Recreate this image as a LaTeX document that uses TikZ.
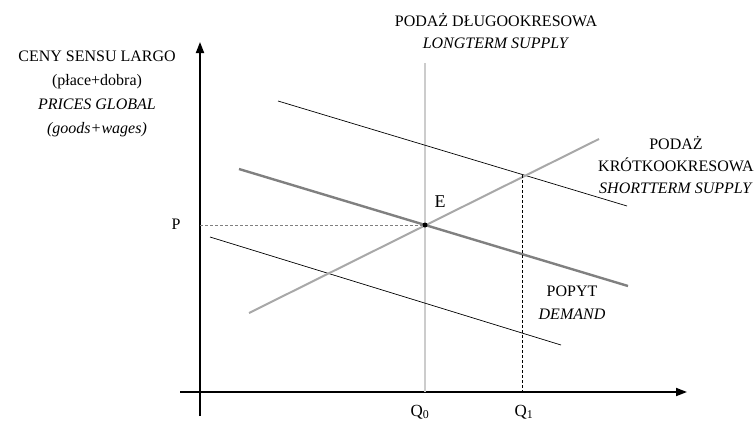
\documentclass[tikz,border=0pt]{standalone}
\usepackage{fontspec}
\setmainfont{Liberation Serif}
\usetikzlibrary{arrows.meta}
\definecolor{demgray}{gray}{0.5}
\definecolor{supgray}{gray}{0.66}
\definecolor{longgray}{gray}{0.8}
\begin{document}
\begin{tikzpicture}[x=1pt,y=-1pt,
    axis/.style={line width=1.8pt,-{Triangle[length=11pt,width=8pt]}},
    thin/.style={line width=0.7pt},
    guide/.style={line width=0.6pt,densely dashed},
    lbl/.style={font=\fontsize{16}{24}\selectfont,align=center,inner sep=0pt}]
    \useasboundingbox(0,0)rectangle(754,426);
    % axes
    \coordinate(yb)at(200,416);
    \coordinate(yt)at(200,42);
    \coordinate(xl)at(180,392);
    \coordinate(xr)at(687,392);
    \draw[axis](yb)--(yt);
    \draw[axis](xl)--(xr);
    % curves
    \coordinate(d0a)at(239,169);\coordinate(d0b)at(628,286);
    \coordinate(d1a)at(278,101);\coordinate(d1b)at(627,206);
    \coordinate(d2a)at(210,237);\coordinate(d2b)at(561,345);
    \coordinate(sa)at(249,313);\coordinate(sb)at(599,139);
    \coordinate(lta)at(425,63);\coordinate(ltb)at(425,392);
    \coordinate(q1a)at(522,175);\coordinate(q1b)at(522,392);
    \coordinate(pa)at(200,225);
    \draw[longgray,line width=2pt](lta)--(ltb);
    \draw[thin](d1a)--(d1b);
    \draw[thin](d2a)--(d2b);
    \draw[supgray,line width=2pt](sa)--(sb);
    \draw[demgray,line width=2.4pt](d0a)--(d0b);
    \draw[guide](q1a)--(q1b);
    \node[circle,fill,inner sep=0pt,minimum size=5pt](E)at(425,225){};
    \draw[guide,demgray](pa)--(E);
    % labels
    \node[lbl,font=\fontsize{18}{24}\selectfont](Elbl)at(440,202){E};
    \node[lbl](P)at(176,224){P};
    \node[lbl,font=\fontsize{17}{24}\selectfont](Q0)at(420,412){Q\textsubscript{0}};
    \node[lbl,font=\fontsize{17}{24}\selectfont](Q1)at(524,412){Q\textsubscript{1}};
    \node[lbl](ceny)at(97,94){CENY SENSU LARGO\\(płace+dobra)\\\textit{PRICES GLOBAL}\\\textit{(goods+wages)}};
    \node[lbl,font=\fontsize{16}{22}\selectfont](dlugo)at(496,31){PODAŻ DŁUGOOKRESOWA\\\textit{LONGTERM SUPPLY}};
    \node[lbl,font=\fontsize{16}{22}\selectfont](krotko)at(676,165){PODAŻ\\KRÓTKOOKRESOWA\\\textit{SHORTTERM SUPPLY}};
    \node[lbl,font=\fontsize{16}{23}\selectfont](popyt)at(572,303){POPYT\\\textit{DEMAND}};
\end{tikzpicture}
\end{document}
